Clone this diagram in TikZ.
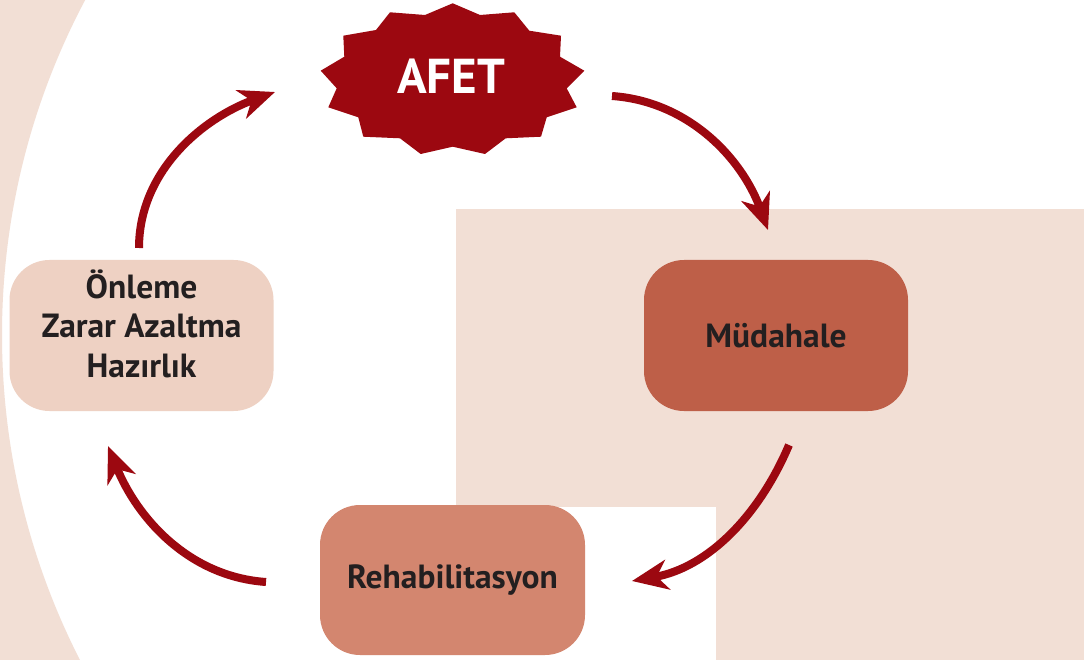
\documentclass[tikz,border=0pt]{standalone}
\usepackage{fontspec}
\setmainfont{PT Sans}
\usetikzlibrary{arrows.meta}

\definecolor{bgpink}{HTML}{F2DFD5}
\definecolor{prepfill}{HTML}{EED1C3}
\definecolor{respfill}{HTML}{BE5F48}
\definecolor{rehabfill}{HTML}{D3866F}
\definecolor{disred}{HTML}{9C0810}
\definecolor{inkdark}{HTML}{231F20}

\tikzset{
  phasebox/.style={rounded corners=40pt, minimum width=264pt, minimum height=151pt,
    inner sep=0pt, align=center, text=inkdark,
    font=\fontsize{33.5}{39.5}\selectfont\bfseries},
  cyclearrow/.style={disred, line width=8pt,
    -{Stealth[length=36pt, width=30pt, inset=11pt]}},
}

\begin{document}
\begin{tikzpicture}[x=1pt, y=1pt]
  \useasboundingbox (0,0) rectangle (1089,-660);
  \fill[white] (0,0) rectangle (1089,-660);

  % large ring segment on the left edge
  \begin{scope}
    \clip (0,0) rectangle (1089,-660);
    \fill[bgpink, even odd rule] (-10,10) rectangle (1100,-670)
      (717,-335) circle (715);
  \end{scope}

  % background panel on the right with a white notch
  \fill[bgpink] (456,-209) rectangle (1084,-660);
  \fill[white] (456,-507) rectangle (716,-660);

  % starburst
  \fill[disred] (452.7,-3.3) -- (480,-15) -- (514.3,-12.3) -- (529.3,-30.7)
    -- (561,-35.7) -- (560,-56.7) -- (584.3,-70.7) -- (566.7,-88.3)
    -- (576.7,-107.3) -- (546.7,-117.3) -- (541,-136.7) -- (505.7,-138.3)
    -- (485,-154) -- (452.7,-146.7) -- (420.7,-154) -- (400,-138.3)
    -- (363.3,-136.7) -- (358.3,-117.3) -- (328.3,-107.3) -- (336.7,-88.3)
    -- (320.7,-70.7) -- (344.3,-56.7) -- (343.3,-35.7) -- (376,-30)
    -- (390,-12.3) -- (425,-15) -- cycle;
  \node[text=white, font=\fontsize{49}{52}\selectfont\bfseries] (afet) at (451,-76) {AFET};

  % phase boxes (the deep strut lifts the three-line block a little)
  \node[phasebox, fill=prepfill] (prep) at (141.5,-335.5)
    {Önleme\\Zarar Azaltma\\Hazırlık\rule[-24pt]{0pt}{24pt}};
  \node[phasebox, fill=respfill] (resp) at (776,-335.5) {Müdahale};
  \node[phasebox, fill=rehabfill, minimum width=265pt, minimum height=150pt] (rehab) at (452.5,-580) {Rehabilitasyon};

  % arrow end points
  \coordinate (a1s) at (139,-248);
  \coordinate (a1e) at (275,-92);
  \coordinate (a2s) at (612,-96);
  \coordinate (a2e) at (768,-230);
  \coordinate (a3s) at (789,-445);
  \coordinate (a3e) at (632,-581);
  \coordinate (a4s) at (266,-582);
  \coordinate (a4e) at (108,-446);

  % cycle arrows
  \draw[cyclearrow] (a1s) to[out=90, in=200, looseness=0.95] (a1e);
  \draw[cyclearrow] (a2s) to[out=-4, in=110, looseness=0.95] (a2e);
  \draw[cyclearrow] (a3s) to[out=-113, in=10, looseness=0.95] (a3e);
  \draw[cyclearrow] (a4s) to[out=176, in=-68, looseness=0.95] (a4e);
\end{tikzpicture}
\end{document}
